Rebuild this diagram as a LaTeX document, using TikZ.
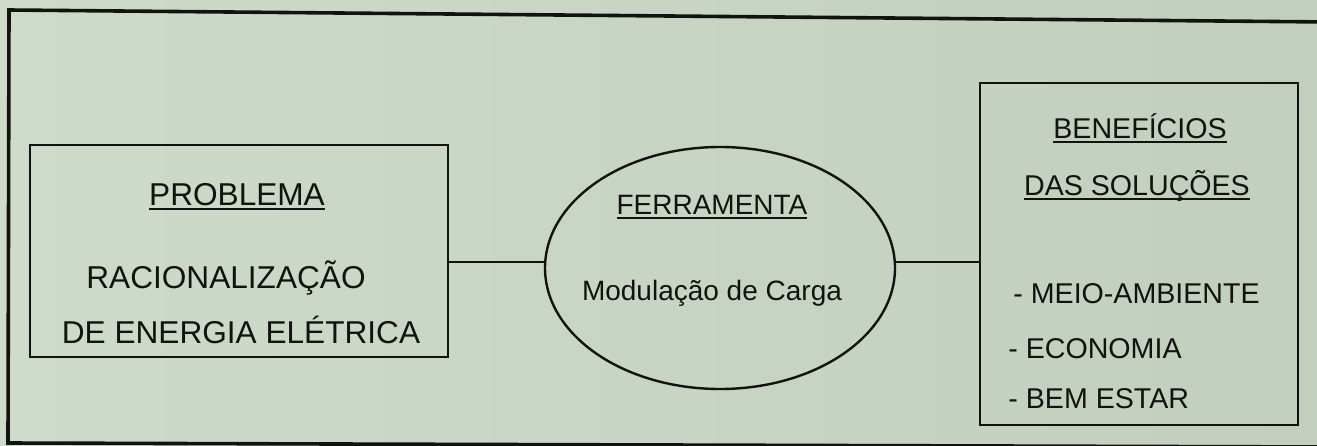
\documentclass[tikz,border=0pt]{standalone}
\usepackage{fontspec}
\setmainfont{Liberation Sans}
\usetikzlibrary{shapes.geometric}
\definecolor{paperl}{RGB}{207,219,202}
\definecolor{paperr}{RGB}{194,207,190}
\definecolor{ink}{RGB}{18,18,16}
\newcommand{\ulin}[1]{\setbox0\hbox{#1}\rlap{\rule[-2.4pt]{\wd0}{0.8pt}}\box0}

\begin{document}
\begin{tikzpicture}[
  x=0.5pt, y=-0.5pt,
  box/.style={draw=ink, line width=1.4pt, inner sep=0pt},
  link/.style={draw=ink, line width=1.2pt},
  txt/.style={anchor=base, inner sep=0pt, text=ink},
  lfont/.style={font=\fontsize{15.8}{19}\selectfont},
  cfont/.style={font=\fontsize{14}{17}\selectfont},
  rfont/.style={font=\fontsize{14.3}{17}\selectfont}
]
\shade[left color=paperl, right color=paperr] (0,0) rectangle (1317,445);
\useasboundingbox (0,0) rectangle (1317,445);

% outer frame, runs off the right edge
\draw[ink, line width=1.8pt] (1330,22) -- (9,10) -- (8,443) -- (1330,447);

\node (prob) [box, minimum width=209pt, minimum height=106pt] at (239,251) {};
\node (ferr) [box, ellipse, line width=1.2pt, minimum width=175pt, minimum height=121pt] at (720,268) {};
\node (benef) [box, minimum width=159pt, minimum height=171pt] at (1139,254) {};

\node (probhd) [txt, lfont] at (237,205) {\ulin{PROBLEMA}};
\node (rac) [txt, lfont] at (226,288) {RACIONALIZAÇÃO};
\node (ener) [txt, lfont] at (241,343) {DE ENERGIA ELÉTRICA};

\node (ferrhd) [txt, cfont] at (712,214) {\ulin{FERRAMENTA}};
\node (modul) [txt, cfont] at (712,300) {Modulação de Carga};

\node (benefhd) [txt, rfont] at (1140,138) {\ulin{BENEFÍCIOS}};
\node (solu) [txt, rfont] at (1137,195) {\ulin{DAS SOLUÇÕES}};
\node (meio) [txt, rfont, anchor=base west] at (1013,303) {- MEIO-AMBIENTE};
\node (econ) [txt, rfont, anchor=base west] at (1008,358) {- ECONOMIA};
\node (bem) [txt, rfont, anchor=base west] at (1008,408) {- BEM ESTAR};

\coordinate (axis) at (0,262);
\draw[link] (prob.east |- axis) -- (ferr.west |- axis);
\draw[link] (ferr.east |- axis) -- (benef.west |- axis);
\end{tikzpicture}
\end{document}
